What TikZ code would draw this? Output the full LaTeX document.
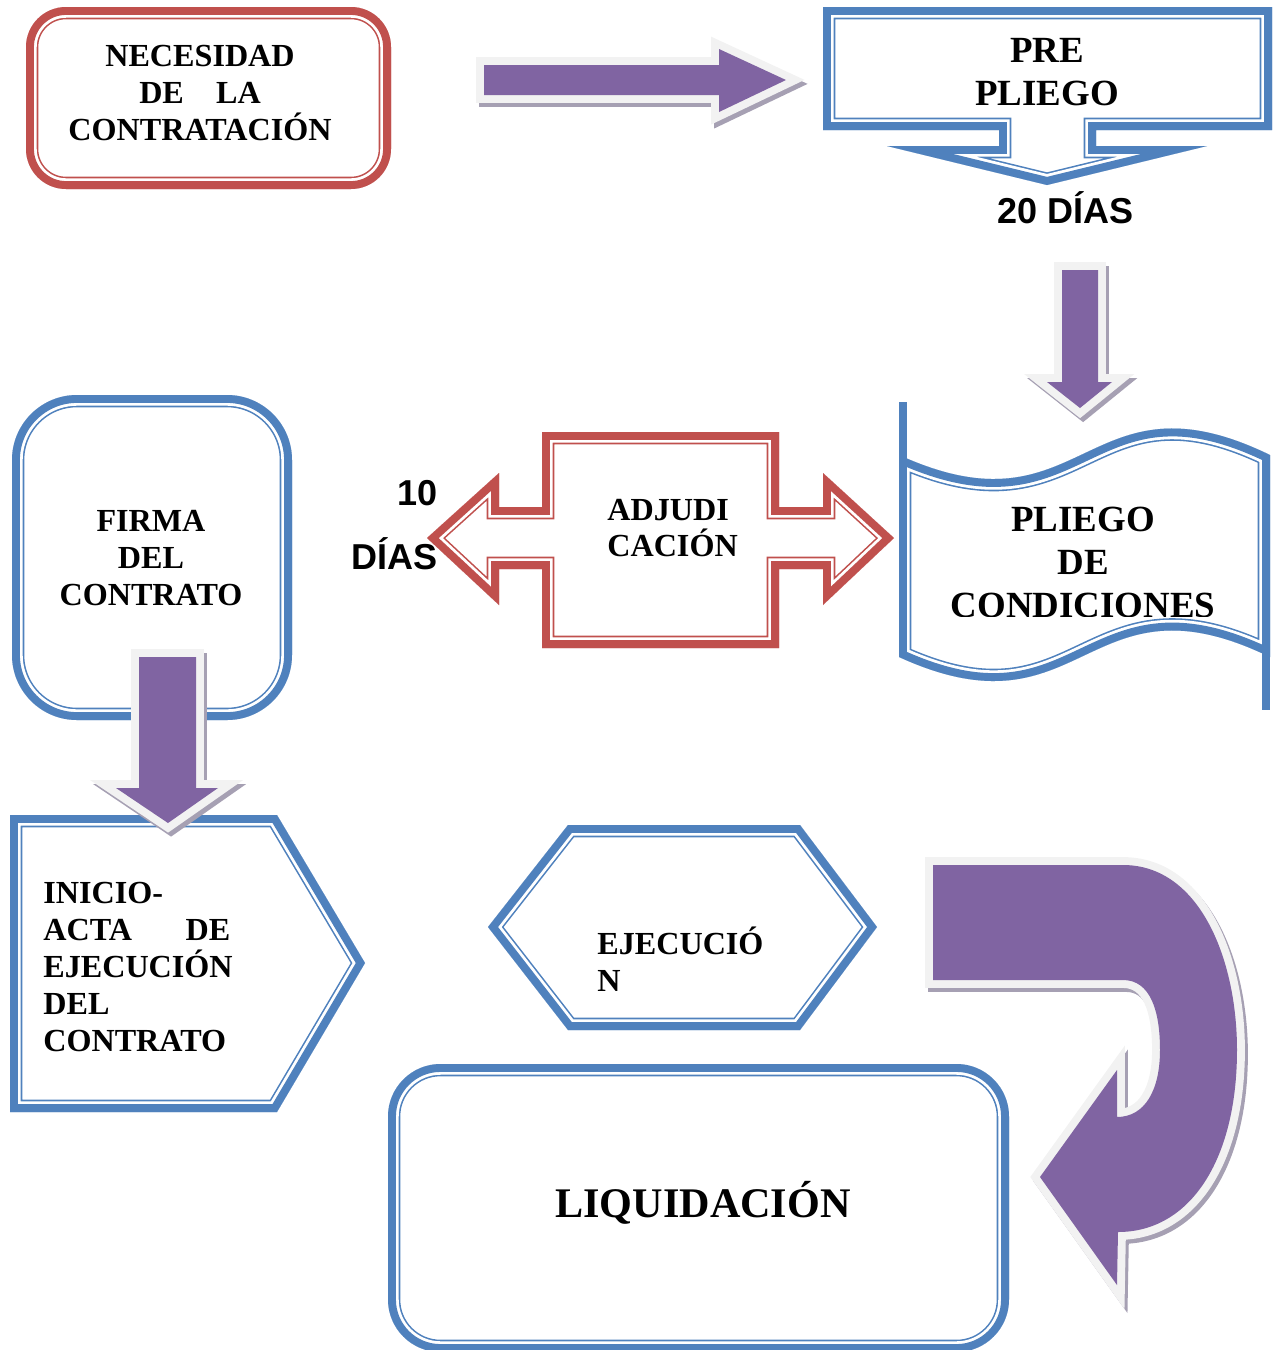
\documentclass[tikz,border=0pt]{standalone}
\usepackage{fontspec}
\setmainfont{Liberation Serif}
\newfontfamily\arialfont{Liberation Sans}

\definecolor{redline}{HTML}{C0504D}
\definecolor{blueline}{HTML}{4F81BD}
\definecolor{arrowfill}{HTML}{8064A2}
\definecolor{arrowrim}{HTML}{F2F2F2}
\definecolor{arrowshade}{HTML}{A6A0B3}

\tikzset{
  boxtext/.style={font=\bfseries\fontsize{18.3}{21}\selectfont, align=center, inner sep=0pt},
  bigtext/.style={font=\bfseries\fontsize{21}{24.5}\selectfont, align=center, inner sep=0pt},
  daystext/.style={font=\arialfont\bfseries\fontsize{20.5}{24}\selectfont, inner sep=0pt},
}

% thick-thin frame, kept inside the path
\newcommand{\dblframe}[2]{%
  \begin{scope}
    \clip #2;
    \fill[white] #2;
    \draw[#1, line width=14pt] #2;
    \draw[white, line width=12.2pt] #2;
    \draw[#1, line width=9pt] #2;
  \end{scope}}

% block arrow with light rim and shadow
\newcommand{\blockarrow}[1]{%
  \filldraw[arrowshade, line width=9pt, shift={(3,4)}] #1;
  \draw[arrowrim, line width=9pt] #1;
  \fill[arrowfill] #1;}

\begin{document}
\begin{tikzpicture}[x=0.02cm, y=-0.02cm]
  \useasboundingbox (0,0) rectangle (1277,1350);
  \clip (0,0) rectangle (1277,1350);

  % Frames
  \dblframe{redline}{[rounded corners=0.8cm] (26,7) rectangle (391,189)}
  \dblframe{blueline}{(823,7) -- (1272,7) -- (1272,130) -- (1096,130) -- (1096,146)
    -- (1207,146) -- (1047,185) -- (887,146) -- (999,146) -- (999,130) -- (823,130) -- cycle}
  \dblframe{blueline}{(899,455) .. controls (1085,540) and (1085,365) .. (1270,455)
    -- (1270,657) .. controls (1085,567) and (1085,742) .. (899,657) -- cycle}
  \draw[blueline, line width=4.5pt] (903,402) -- (903,462);
  \draw[blueline, line width=5pt] (1266,650) -- (1266,710);
  \dblframe{redline}{(542,432) -- (779,432) -- (779,507) -- (823,507) -- (823,473)
    -- (894,538) -- (823,605) -- (823,569) -- (779,569) -- (779,648) -- (542,648)
    -- (542,569) -- (499,569) -- (499,605) -- (427,538) -- (499,473) -- (499,507)
    -- (542,507) -- cycle}
  \dblframe{blueline}{[rounded corners=1.3cm] (12,395) rectangle (292,720)}
  \dblframe{blueline}{(10,815) -- (277,815) -- (365,963) -- (277,1112) -- (10,1112) -- cycle}
  \dblframe{blueline}{(488,927) -- (568,825) -- (800,825) -- (877,927) -- (800,1030)
    -- (568,1030) -- cycle}
  \dblframe{blueline}{[rounded corners=1.05cm] (388,1064) rectangle (1009,1352)}

  % Arrows
  \blockarrow{(484,65) -- (719,65) -- (719,49) -- (786,80) -- (719,112) -- (719,95)
    -- (484,95) -- cycle}
  \blockarrow{(1062,270) -- (1098,270) -- (1098,382) -- (1112,382) -- (1080,408)
    -- (1047,382) -- (1062,382) -- cycle}
  \blockarrow{(139,657) -- (196,657) -- (196,788) -- (218,788) -- (168,823)
    -- (116,788) -- (139,788) -- cycle}
  \blockarrow{(933,865) -- (1123,865) .. controls (1200,865) and (1237,960) .. (1237,1050)
    .. controls (1237,1160) and (1190,1232) .. (1118,1232) -- (1117,1285) -- (1040,1177)
    -- (1117,1070) -- (1117,1117) .. controls (1145,1117) and (1160,1090) .. (1160,1050)
    .. controls (1160,1010) and (1150,980) .. (1123,980) -- (933,980) -- cycle}

  % Labels
  \node[boxtext] (necesidad) at (200,93) {NECESIDAD\\DE\hspace{1em}LA\\CONTRATACIÓN};
  \node[bigtext] (prepliego) at (1047,72) {PRE\\PLIEGO};
  \node[daystext] (dias20) at (1066,208) {20 DÍAS};
  \begin{scope}
    \clip (880,380) rectangle (1277,616);
    \node[bigtext] (pliego) at (1083,562) {PLIEGO\\DE\\CONDICIONES};
  \end{scope}
  \node[boxtext, align=left, anchor=west] (adjudicacion) at (607,528) {ADJUDI\\CACIÓN};
  \node[daystext, align=right, anchor=east] (dias10) at (438,525) {10\\[12pt]DÍAS};
  \node[boxtext] (firma) at (151,558) {FIRMA\\DEL\\CONTRATO};
  \node[boxtext, align=left, anchor=west] (inicio) at (43,967)
    {INICIO-\\ACTA\hspace{1.667em}DE\\EJECUCIÓN\\DEL\\CONTRATO};
  \node[boxtext, align=left, anchor=west] (ejecucion) at (597,959) {EJECUCIÓ\\N};
  \node[font=\bfseries\fontsize{24}{28}\selectfont, inner sep=0pt] (liquidacion)
    at (703,1203) {LIQUIDACIÓN};
\end{tikzpicture}
\end{document}
